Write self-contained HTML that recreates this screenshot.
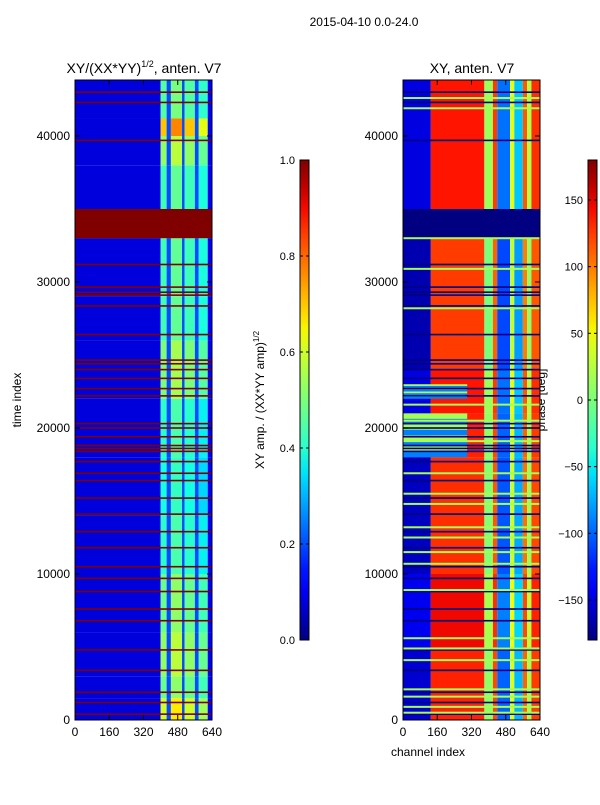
<!DOCTYPE html>
<html><head><meta charset="utf-8"><style>
body{margin:0;background:#fff;width:600px;height:800px;overflow:hidden;font-family:"Liberation Sans",sans-serif}
svg text{font-family:"Liberation Sans",sans-serif;fill:#000}
</style></head><body>
<svg id="fig" width="600" height="800" xmlns="http://www.w3.org/2000/svg">
<text x="364" y="26" font-size="12" text-anchor="middle">2015-04-10 0.0-24.0</text>
<text x="144" y="73" font-size="14" text-anchor="middle">XY/(XX*YY)<tspan font-size="9" dy="-6">1/2</tspan><tspan dy="6">, anten. V7</tspan></text>
<text x="472" y="73" font-size="14" text-anchor="middle">XY, anten. V7</text>
<text transform="translate(21,400) rotate(-90)" font-size="12" text-anchor="middle">time index</text>
<text x="428" y="756" font-size="12" text-anchor="middle">channel index</text>
<text transform="translate(264,400) rotate(-90)" font-size="12" text-anchor="middle">XY amp. / (XX*YY amp)<tspan font-size="8" dy="-5">1/2</tspan></text>
<text transform="translate(545,400) rotate(-90)" font-size="12" text-anchor="middle">phase [deg]</text>
<g id="gL"></g>
<g id="gR"></g>
<g id="axes"></g>
</svg>
<script>
// ---- data ----
const tMax = 43836;
const xTicks = [0,160,320,480,640];
const yTicks = [0,10000,20000,30000,40000];
const ampTicks = [0.0,0.2,0.4,0.6,0.8,1.0];
const phaseTicks = [-150,-100,-50,0,50,100,150];
const ampColEdges = [0,400,428,448,500,512,560,578,620,640];
const ampColLevel = [0.08,0.5,0.2,0.55,0.2,0.5,0.2,0.45,0.12];
const ampTimeEdges = [0,1500,3000,6000,10000,14000,18000,22000,26000,29000,33000,35000,38000,40000,41200,43836];
const ampTimeGain = [1.2,0.95,1.05,0.95,0.8,0.75,0.8,1.0,0.85,0.85,1.0,0.85,1.05,1.4,0.9];
const ampFlagBands = [[33000,35000]];
const ampFlagRows = [400,1200,1900,3400,4800,6800,7600,8800,9700,10500,11800,12900,14100,15200,16400,16900,17700,18400,18600,18800,19400,20000,20300,22200,22700,23400,24000,24400,24650,26400,28360,29100,29300,29650,31200,39700,42300,43000];
const phaseColEdges = [0,130,380,420,440,500,520,560,580,600,640];
const phaseColLevel = [-155,135,10,120,-100,40,-70,110,20,125];
const phaseTimeEdges = [0,5000,10000,18000,21000,24000,33000,35000,43836];
const phaseTimeShift = [0,10,-5,0,5,-10,0,5];
const phaseMixBand = [[18000,21000],[22000,23000]];
const phaseGreenRows = [500,900,1600,2100,4100,4900,5600,8900,10700,11500,12500,13200,14800,15500,16900,19100,20500,21600,28200,30900,33000,41900,42600];
// ---- helpers ----
const NS="http://www.w3.org/2000/svg";
function jet(v){v=Math.max(0,Math.min(1,v));
 const seg=(pts)=>{for(let i=1;i<pts.length;i++){if(v<=pts[i][0]){const[a,b]=[pts[i-1],pts[i]];return a[1]+(b[1]-a[1])*(v-a[0])/(b[0]-a[0]);}}return pts[pts.length-1][1];};
 const r=seg([[0,0],[0.35,0],[0.66,1],[0.89,1],[1,0.5]]),g=seg([[0,0],[0.125,0],[0.375,1],[0.64,1],[0.91,0],[1,0]]),b=seg([[0,0.5],[0.11,1],[0.34,1],[0.65,0],[1,0]]);
 return `rgb(${Math.round(r*255)},${Math.round(g*255)},${Math.round(b*255)})`;}
function rect(g,x,y,w,h,fill){const r=document.createElementNS(NS,'rect');r.setAttribute('x',x);r.setAttribute('y',y);r.setAttribute('width',w);r.setAttribute('height',h);r.setAttribute('fill',fill);


g.appendChild(r);return r;}
const Y=t=>720-t*(640/tMax);
const XL=c=>75+c*(137/640), XR=c=>403+c*(137/640);
// ---- amplitude panel ----
const gL=document.getElementById('gL');
for(let i=0;i<ampTimeGain.length;i++){const t0=ampTimeEdges[i],t1=ampTimeEdges[i+1];
 for(let j=0;j<ampColLevel.length;j++){let v=ampColLevel[j];if(v>0.3)v=Math.min(0.9,v*ampTimeGain[i]);
  rect(gL,XL(ampColEdges[j]),Y(t1),XL(ampColEdges[j+1])-XL(ampColEdges[j]),Y(t0)-Y(t1),jet(v));}}
ampFlagBands.forEach(b=>rect(gL,XL(0),Y(b[1]),XL(640)-XL(0),Y(b[0])-Y(b[1]),jet(1)));
ampFlagRows.forEach(t=>rect(gL,XL(0),Y(t)-0.8,XL(640)-XL(0),1.6,jet(1)));
// ---- phase panel ----
const gR=document.getElementById('gR');const pn=p=>(p+180)/360;
for(let i=0;i<phaseTimeShift.length;i++){const t0=phaseTimeEdges[i],t1=phaseTimeEdges[i+1];
 for(let j=0;j<phaseColLevel.length;j++){const v=pn(phaseColLevel[j]+phaseTimeShift[i]);
  rect(gR,XR(phaseColEdges[j]),Y(t1),XR(phaseColEdges[j+1])-XR(phaseColEdges[j]),Y(t0)-Y(t1),jet(v));}}
phaseMixBand.forEach(b=>{const n=8;for(let k=0;k<n;k++){const ta=b[0]+(b[1]-b[0])*k/n,tb=b[0]+(b[1]-b[0])*(k+1)/n;
 rect(gR,XR(0),Y(tb),XR(300)-XR(0),Y(ta)-Y(tb),jet(k%2?0.55:0.25));}});
ampFlagBands.forEach(b=>rect(gR,XR(0),Y(b[1]),XR(640)-XR(0),Y(b[0])-Y(b[1]),jet(0)));
ampFlagRows.forEach(t=>rect(gR,XR(0),Y(t)-0.8,XR(640)-XR(0),1.6,jet(0)));
phaseGreenRows.forEach(t=>rect(gR,XR(0),Y(t)-1,XR(640)-XR(0),2,jet(0.55)));
// ---- axes ----
const A=document.getElementById('axes');
function el(tag,attrs,name,txt){const e=document.createElementNS(NS,tag);for(const k in attrs)e.setAttribute(k,attrs[k]);
 
 
 if(txt!==undefined)e.textContent=txt;A.appendChild(e);return e;}
[[75,'left'],[403,'right']].forEach(([x0,side])=>{
 el('rect',{x:x0,y:80,width:137,height:640,fill:'none',stroke:'#000','stroke-width':1},side+'-plot-frame');
 xTicks.forEach(c=>{const x=x0+c*137/640;
  el('line',{x1:x,x2:x,y1:720,y2:715,stroke:'#000'},'x-tick');
  el('line',{x1:x,x2:x,y1:80,y2:85,stroke:'#000'},'x-tick');
  el('text',{x:x,y:736,'font-size':12,'text-anchor':'middle'},'x-tick-label',c);});
 yTicks.forEach(t=>{const y=Y(t);
  el('line',{x1:x0,x2:x0+5,y1:y,y2:y,stroke:'#000'},'y-tick');
  el('line',{x1:x0+132,x2:x0+137,y1:y,y2:y,stroke:'#000'},'y-tick');
  el('text',{x:x0-5,y:y+4,'font-size':12,'text-anchor':'end'},'y-tick-label',t);});
});
// colorbars
const defs=el('defs',{},'gradients');
function grad(id){const g=document.createElementNS(NS,'linearGradient');g.setAttribute('id',id);g.setAttribute('x1',0);g.setAttribute('y1',1);g.setAttribute('x2',0);g.setAttribute('y2',0);
 for(let i=0;i<=20;i++){const s=document.createElementNS(NS,'stop');s.setAttribute('offset',i/20);s.setAttribute('stop-color',jet(i/20));g.appendChild(s);}defs.appendChild(g);}
grad('jetg');
[[300,'amp',ampTicks,v=>v,v=>v.toFixed(1)],[588,'phase',phaseTicks,v=>(v+180)/360,v=>v<0?'\u2212'+(-v):''+v]].forEach(([x0,nm,ticks,norm,fmt])=>{
 el('rect',{x:x0,y:160,width:9,height:480,fill:'url(#jetg)',stroke:'#000','stroke-width':1},nm+'-colorbar');
 ticks.forEach(v=>{const y=640-norm(v)*480;
  el('line',{x1:x0,x2:x0+3,y1:y,y2:y,stroke:'#000'},nm+'-colorbar-tick');
  el('line',{x1:x0+6,x2:x0+9,y1:y,y2:y,stroke:'#000'},nm+'-colorbar-tick');
  el('text',{x:x0-5,y:y+4,'font-size':11,'text-anchor':'end'},nm+'-colorbar-tick-label',fmt(v));});
});
</script>
</body></html>
